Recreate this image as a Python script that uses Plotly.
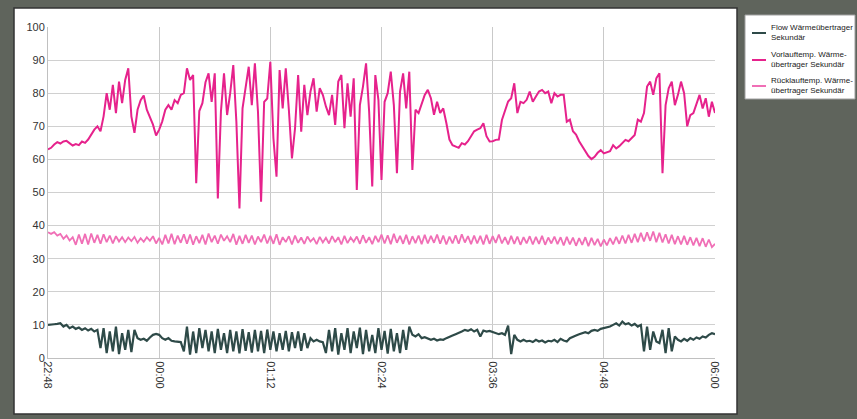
import pandas as pd
import plotly.graph_objects as go

# time axis: 22:48 -> 06:00, one sample every 2 minutes
start_time = "2000-01-01 22:48"
step = "2min"
n_points = 217
times = pd.date_range(start_time, periods=n_points, freq=step)

series_names = [
    "Flow Wärmeübertrager<br>Sekundär",
    "Vorlauftemp. Wärme-<br>übertrager Sekundär",
    "Rücklauftemp. Wärme-<br>übertrager Sekundär",
]

flow = [
    10, 10, 10.2, 10.3, 10.5,
    9.5, 10, 9, 9.5, 8.8, 9.2, 8.5, 9, 8.3, 8.8, 8, 8.5,
    3, 9, 1.5, 8, 2, 9.5, 1.2, 7.5, 2.5, 8.5, 1.8,
    8.5, 6, 5.5, 5.8, 5.2, 6.2, 7, 7.3, 7, 6, 5.5, 6, 5.2, 5, 5, 4.8,
    2, 9.5, 1, 8, 1.5, 9,
    3, 8.5, 2, 8, 1.5, 8.8, 2.5, 7.5, 1.5, 8.5,
    2, 8, 1.4, 8.7, 2.2, 7.8, 1.6, 8.5, 2, 8.2,
    1.5, 8.6, 2.5, 8, 2, 7.5, 2.5, 8.2, 2, 7.8,
    3, 8, 2.2, 7.5, 3, 6, 5, 5.5,
    5, 4.8,
    1.5, 8.5, 2, 9, 1, 7.5, 2.5, 9, 1.5, 8,
    3, 9.2, 1.2, 8.5, 2, 7, 1.5, 9, 2.5, 8.2,
    1.3, 8.8, 2, 7.5, 1.5, 8.5, 2.5, 9.5,
    7, 6.5, 7.2, 6, 6.3, 5.8, 5.5, 5.8, 5.3, 5.6, 5.5, 6, 6.3,
    6.8, 7.2, 7.5, 8, 8.5, 8.2, 8.7, 8, 8.5, 6.5, 8.3, 8, 8.2,
    7.8, 7.5, 7.2, 7.5, 7,
    9.8, 1.2, 7, 5.5,
    5, 5.5, 5, 5.2, 4.8, 5.5, 5, 5.3, 4.7, 5.2, 5, 5.5, 4.8, 5.8, 5.3, 5,
    6, 6.5, 6.8, 7.2, 7.5, 7.8, 7.5, 8.2, 8.5, 8.2, 8.8, 9, 9.2,
    9.5, 10, 10.5, 9.8, 11, 10.2, 10.5, 9.8, 10.3, 9.5, 10,
    2, 9.5, 2.5, 8, 5, 4.5, 8.5, 1.5, 9, 2, 6.5,
    5.5, 5, 5.8, 5.2, 6, 5.5, 6.2, 5.8, 6.5, 6.2, 7, 7.5, 7.2,
]

vorlauf = [
    63.0, 63.5, 64.5, 65.2, 64.8, 65.4, 65.6, 65.0, 64.2, 64.6,
    64.3, 65.4, 65.0, 66.0, 67.5, 69.0, 70.0, 68.5,
    73, 80, 75, 82.5, 74, 83.5, 77, 84, 87.5, 73,
    68, 75, 77.9, 79.3, 75, 73, 70.5, 67.2,
    69, 71.5, 75, 76.4, 75, 77.9, 77, 79.5, 80, 87.5,
    84, 85.5, 52.8, 74.6, 77, 83.3, 86, 77.4, 86,
    48.2, 74.4, 86, 73.4, 80, 88.5, 71.4, 45.2, 75.4, 82,
    88, 76.4, 89, 74.4, 47.2, 77.4, 78.4, 89.5, 66.4, 54.8,
    87, 75.4, 87.5, 75, 60.3, 69.4, 85.5, 68.4, 82.5, 73.4,
    80.5, 84.5, 74.4, 81.5, 79.5, 76, 73.4, 79.5, 70.4, 83.5,
    85.5, 69.4, 83, 72.9, 84.5, 50.8, 76.4, 82, 89, 74.4,
    51.8, 85.5, 78, 53.8,
    77.4, 80, 86.5, 76.4, 55.8, 80.5, 86, 75.4, 86.5, 56.8,
    75, 74, 77, 79.5, 81, 78.5, 73.5, 77.4, 74, 75.4,
    71, 66, 64.3, 63.8, 63.5, 64.9, 64.5, 65.5, 66.9, 68.5,
    69, 69.4, 70.9, 67, 65.4, 65.5, 65.9, 66, 71.9, 75,
    77.5, 78.5, 83, 74, 77.4, 77, 78, 80.5, 77.4, 79,
    80.5, 81, 80, 80.5,
    77, 80, 79, 79.5, 79.5, 71.4, 72, 68.5, 67.5, 65.5,
    64, 62.8, 61, 60.1, 60.8, 62, 62.8, 61.8, 62.2, 62.5,
    64.3, 63.3, 64, 64.9, 65.9, 65.5, 66.4, 67.4, 72, 71.4,
    74, 82, 83.5, 79.5, 84.5, 86, 55.8, 76.4, 81.5, 83.5,
    76.4, 79.5, 83.5, 80, 70, 73.4, 74, 77, 79.5, 75.4,
    78.5, 72.9, 77.4, 74,
]

ruecklauf = [
    38, 37.5, 38, 37, 37.5,
    36, 37, 35.5, 36.5,
    34.2, 37.3, 34.5, 37.5, 34.3, 37.6, 34.8, 37.2, 34.5, 37.4, 35, 37, 34.6, 36.8,
    35.2, 36.5, 35, 36.4, 35.3, 36.6, 34.8, 36.2, 35.1, 36.5, 35.4, 36.8, 34.6, 36.3,
    34.3, 37.2, 34.6, 37.5, 34.4, 37, 34.8, 37.4, 34.5, 37.3,
    34.2, 36.8, 34.7, 37.2, 34.3, 37.6, 35, 37, 34.5, 37.3,
    35.4, 36.8, 35, 37.5, 34.2, 36.9, 34.5, 37.2, 34.8, 37,
    34.3, 36.7, 35, 37.3, 34.6, 36.9,
    34.5, 37.4, 34.2, 36.5, 35, 36.8, 34.3, 37, 34.8, 36.4,
    34.5, 36.7, 35.2, 36.2, 34.4, 36.6, 34.9, 36.3, 34.6, 36.8,
    35, 36.5, 34.3, 36.9, 34.7, 36.4, 35.1, 36.7, 34.5, 37.1,
    34.8, 36.5, 34.4, 36.9, 35,
    37.3, 34.6, 37.1, 34.4, 37.5, 34.8, 36.9, 34.5, 37.2, 34.3,
    36.8, 34.7, 37, 34.4, 37.2, 34.6, 36.9, 34.8, 37.3, 34.5,
    37, 34.3, 36.7, 34.6, 37.1, 34.5, 37.4, 34.9, 36.8, 34.4,
    37, 34.6, 36.9, 34.3, 37.2, 34.5, 36.8,
    34.8, 37.3, 34.6, 36.5, 34.3, 36.9, 34.5, 36.7, 34.2, 36.5,
    34.6, 36.8, 34.3, 36.6, 34.5, 36.9, 34.2, 36.4, 34.6, 36.7,
    34.4, 36.5, 34, 36.6, 34.3, 36.4, 33.9, 36.2, 34.2, 36.5,
    33.8, 36.3, 34.1, 36, 33.7, 35.8, 34,
    36.2, 34.3, 36.6, 34.5, 37, 34.6, 37.2, 34.8, 37.5, 35,
    37.8, 35.2, 38, 35.4, 38.2, 35, 37.8, 34.9, 37.4, 34.6,
    37.2, 34.4, 36.8, 34.3, 36.9, 34.2, 36.5, 34, 36.3, 33.8,
    36.2, 33.6, 35.8, 33.5, 34.5,
]

assert len(flow) == n_points, len(flow)
assert len(vorlauf) == n_points, len(vorlauf)
assert len(ruecklauf) == n_points, len(ruecklauf)

colors = ["#2e4a48", "#e6228c", "#f06fb6"]
widths = [2.2, 2, 1.8]
values = [flow, vorlauf, ruecklauf]

fig = go.Figure()
for name, vals, col, w in zip(series_names, values, colors, widths):
    fig.add_trace(go.Scatter(x=times, y=vals, mode="lines", name=name,
                             line=dict(color=col, width=w), showlegend=False))

W, H = 857, 419
ml, mr, mt, mb = 48, 142, 27, 61
pw, ph = W - ml - mr, H - mt - mb

def px_x(p):
    return (p - ml) / pw

def px_y(p):
    return (H - mb - p) / ph

# white chart panel + separate legend box (page decoration)
shapes = [
    dict(type="rect", xref="paper", yref="paper", layer="below",
         x0=px_x(14), x1=px_x(737), y0=px_y(414), y1=px_y(8),
         fillcolor="#ffffff", line=dict(color="#333333", width=1.5)),
    dict(type="rect", xref="paper", yref="paper", layer="below",
         x0=px_x(745), x1=px_x(855), y0=px_y(99), y1=px_y(15),
         fillcolor="#ffffff", line=dict(color="#a0a0a0", width=1)),
]
annotations = []
legend_rows = [33, 60, 86]
for name, col, row in zip(series_names, colors, legend_rows):
    shapes.append(dict(type="line", xref="paper", yref="paper",
                       x0=px_x(752), x1=px_x(766), y0=px_y(row), y1=px_y(row),
                       line=dict(color=col, width=2)))
    annotations.append(dict(xref="paper", yref="paper", x=px_x(769), y=px_y(row),
                            xanchor="left", yanchor="middle", align="left",
                            text=name, showarrow=False,
                            font=dict(family="Liberation Sans, Arial, sans-serif",
                                      size=8, color="#222222")))

fig.update_layout(
    width=W, height=H,
    margin=dict(l=ml, r=mr, t=mt, b=mb, pad=0, autoexpand=False),
    paper_bgcolor="#5f645c",
    plot_bgcolor="#ffffff",
    font=dict(family="Liberation Sans, Arial, sans-serif", size=11, color="#333333"),
    showlegend=False,
    shapes=shapes,
    annotations=annotations,
)

fig.update_xaxes(
    type="date",
    range=[times[0], times[-1]],
    tick0=times[0], dtick=72 * 60 * 1000,
    tickformat="%H:%M", tickangle=90,
    showgrid=True, gridcolor="#c9c9c9", gridwidth=1,
    showline=True, linecolor="#c0c0c0", linewidth=1,
    ticks="", tickfont=dict(size=11, color="#333333"),
)
fig.update_yaxes(
    range=[0, 100], dtick=10,
    showgrid=True, gridcolor="#d0d0d0", gridwidth=1,
    zeroline=False,
    showline=True, linecolor="#c0c0c0", linewidth=1,
    ticks="", tickfont=dict(size=11, color="#333333"),
)

fig.write_html("out.html",
               config={"displayModeBar": False},
               post_script="document.body.style.margin='0';document.body.style.background='#5f645c';")
